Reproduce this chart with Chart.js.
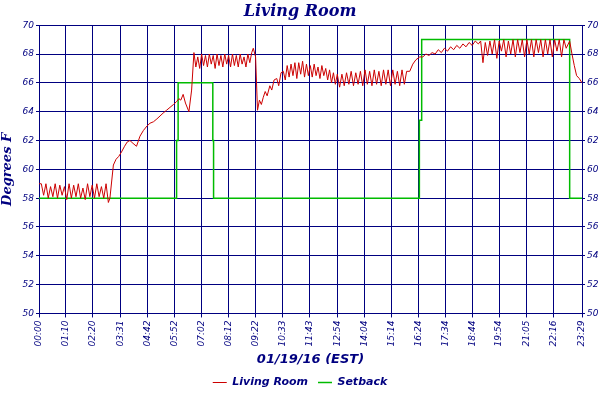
<!DOCTYPE html>
<html>
<head>
<meta charset="utf-8">
<script src="https://cdn.jsdelivr.net/npm/chart.js@4/dist/chart.umd.min.js"></script>
<style>
  body { margin: 0; background: #fff; }
</style>
</head>
<body>
<canvas id="livingChart" width="600" height="400"></canvas>
<script>
// minutes since midnight, degrees F
const roomPoints = [
  [0,59],[6,59],[12,58.2],[18,59],[24,58],[30,58.8],[36,58.1],[42,59],[48,58],[54,58.9],
  [60,58.2],[66,58.8],[72,57.9],[78,59],[84,58],[90,58.9],[96,58.1],[102,59],[108,58],[114,58.7],
  [120,57.9],[126,59],[132,58.1],[138,58.9],[144,58],[150,59],[156,58.1],[162,58.8],[168,58],[174,59],
  [180,57.7],[184,58],
  [193,60.3],[200,60.7],[207,60.9],[214,61.2],[222,61.6],[229,61.9],[236,62],[244,61.8],[253,61.6],
  [262,62.3],[271,62.7],[280,63],[288,63.2],[297,63.3],[306,63.5],[314,63.7],[322,63.9],[331,64.1],
  [340,64.3],[349,64.5],[357,64.7],[363,64.9],[368,64.8],[374,65.2],[380,64.6],[389,64.0],[396,65.5],[402,68.1],
  [407,67.1],[412,67.8],[417,67.0],[422,68.0],[427,67.2],[432,67.9],[437,67.1],[442,68.0],[447,67.3],
  [452,67.9],[457,67.0],[462,68.0],[467,67.2],[472,67.9],[477,67.1],[482,68.0],[487,67.3],[492,67.9],
  [497,67.1],[502,68.0],[507,67.2],[512,67.9],[517,67.1],[522,68.0],[527,67.3],[532,67.8],[537,67.1],
  [542,68.0],[547,67.4],[552,68.1],[556,68.4],[562,67.8],[567,64.1],
  [572,64.8],[577,64.5],[582,65.0],[587,65.4],[592,65.1],[599,65.8],[604,65.5],[610,66.2],[617,66.3],
  [622,65.8],[628,66.7],[634,66.8],[639,66.2],[644,67.2],[649,66.4],[654,67.3],[659,66.5],[664,67.4],
  [669,66.3],[674,67.4],[679,66.6],[684,67.5],[689,66.4],[694,67.3],[699,66.5],[704,67.2],[709,66.4],
  [714,67.3],[719,66.5],[724,67.1],[729,66.3],[734,67.2],[739,66.5],[744,67.0],[749,66.2],[754,66.9],
  [759,66.0],[764,66.7],[769,65.9],[774,66.6],
  [780,65.7],[786,66.6],[792,65.8],[798,66.7],[804,65.9],[810,66.8],[816,65.8],[822,66.7],[828,65.9],
  [834,66.8],[840,65.8],[846,66.9],[852,65.9],[858,66.8],[864,65.8],[870,66.9],[876,65.9],[882,66.8],
  [888,65.8],[894,66.9],[900,65.9],[906,66.9],[912,65.8],[918,66.9],[924,65.9],[930,66.8],[936,65.8],
  [942,66.9],[948,65.9],[954,66.8],[962,66.8],[970,67.3],[978,67.6],[988,67.8],[996,67.8],[1004,68.0],
  [1012,67.9],[1020,68.1],[1028,68.0],[1036,68.3],[1044,68.1],[1052,68.4],[1060,68.2],[1068,68.5],
  [1076,68.3],[1084,68.6],[1092,68.4],[1100,68.7],[1108,68.5],[1116,68.8],[1124,68.6],[1132,68.9],
  [1140,68.7],[1146,68.9],
  [1152,67.4],[1158,68.8],[1164,67.9],[1170,68.9],[1176,68.0],[1182,69.0],[1188,67.7],[1194,68.9],
  [1200,68.2],[1206,69.0],[1212,67.8],[1218,68.9],[1224,68.0],[1230,69.0],[1236,67.8],[1242,69.0],
  [1248,68.1],[1254,69.0],[1260,67.8],[1266,69.0],[1272,68.0],[1278,69.0],[1284,67.8],[1290,69.0],
  [1296,68.1],[1302,69.0],[1308,67.8],[1314,69.0],[1320,68.0],[1326,69.0],[1332,67.8],[1338,69.0],
  [1344,68.2],[1350,69.0],[1356,67.8],[1362,69.0],[1368,68.4],[1377,68.9],[1383,68.0],[1389,67.2],
  [1395,66.5],[1402,66.3],[1409,66.0]
];

const setbackPoints = [
  [0,58],[357,58],[357,62],[361,62],[361,66],[451,66],[451,62],[453,62],[453,58],
  [987,58],[987,63.4],[993,63.4],[993,69],[1377,69],[1377,58],[1409,58]
];

const tickMinutes = [0,70,140,211,282,352,422,492,562,633,703,774,844,914,984,1054,1124,1194,1265,1336,1409];
const tickLabels = ["00:00","01:10","02:20","03:31","04:42","05:52","07:02","08:12","09:22","10:33",
  "11:43","12:54","14:04","15:14","16:24","17:34","18:44","19:54","21:05","22:16","23:29"];

const navy = "#000080";
const tickFont = { family: "DejaVu Sans", size: 9, style: "italic" };

const toXY = pts => pts.map(p => ({ x: p[0], y: p[1] }));

new Chart("livingChart", {
    type: "line",
    data: {
        datasets: [{
            label: "Living Room",
            data: toXY(roomPoints),
            borderColor: "#cc0000",
            backgroundColor: "#cc0000",
            borderWidth: 1,
            pointRadius: 0,
            tension: 0
        }, {
            label: "Setback",
            data: toXY(setbackPoints),
            borderColor: "#00bb00",
            backgroundColor: "#00bb00",
            borderWidth: 1.5,
            pointRadius: 0,
            tension: 0
        }]
    },
    options: {
        responsive: false,
        animation: false,
        layout: { padding: { left: 0, right: 0, top: 0, bottom: 2 } },
        plugins: {
            title: {
                display: true,
                text: "Living Room",
                color: navy,
                font: { family: "DejaVu Serif", size: 16, style: "italic", weight: "bold" },
                padding: { top: 2, bottom: 4 }
            },
            legend: {
                position: "bottom",
                labels: {
                    color: navy,
                    font: { family: "DejaVu Sans", size: 11, style: "italic", weight: "bold" },
                    usePointStyle: true,
                    pointStyle: "line",
                    pointStyleWidth: 14,
                    padding: 10
                }
            },
            tooltip: { enabled: false }
        },
        scales: {
            x: {
                type: "linear",
                min: 0,
                max: 1409,
                afterBuildTicks: axis => { axis.ticks = tickMinutes.map(v => ({ value: v })); },
                ticks: {
                    color: navy,
                    font: tickFont,
                    minRotation: 90,
                    maxRotation: 90,
                    autoSkip: false,
                    callback: (v, i) => tickLabels[i]
                },
                grid: { color: navy, tickColor: navy, tickLength: 4 },
                border: { color: navy },
                title: {
                    display: true,
                    text: "01/19/16 (EST)",
                    color: navy,
                    font: { family: "DejaVu Sans", size: 13, style: "italic", weight: "bold" },
                    padding: { top: 2, bottom: 0 }
                }
            },
            y: {
                min: 50,
                max: 70,
                ticks: { stepSize: 2, color: navy, font: tickFont, padding: 2 },
                grid: { color: navy, tickColor: navy, tickLength: 3 },
                border: { color: navy },
                title: {
                    display: true,
                    text: "Degrees F",
                    color: navy,
                    font: { family: "DejaVu Serif", size: 13, style: "italic", weight: "bold" },
                    padding: 0
                },
                afterFit: axis => { axis.width = 39; }
            },
            y2: {
                position: "right",
                min: 50,
                max: 70,
                ticks: { stepSize: 2, color: navy, font: tickFont, padding: 2 },
                grid: { drawOnChartArea: false, tickColor: navy, tickLength: 3 },
                border: { color: navy },
                afterFit: axis => { axis.width = 18; }
            }
        }
    }
});
</script>
</body>
</html>
